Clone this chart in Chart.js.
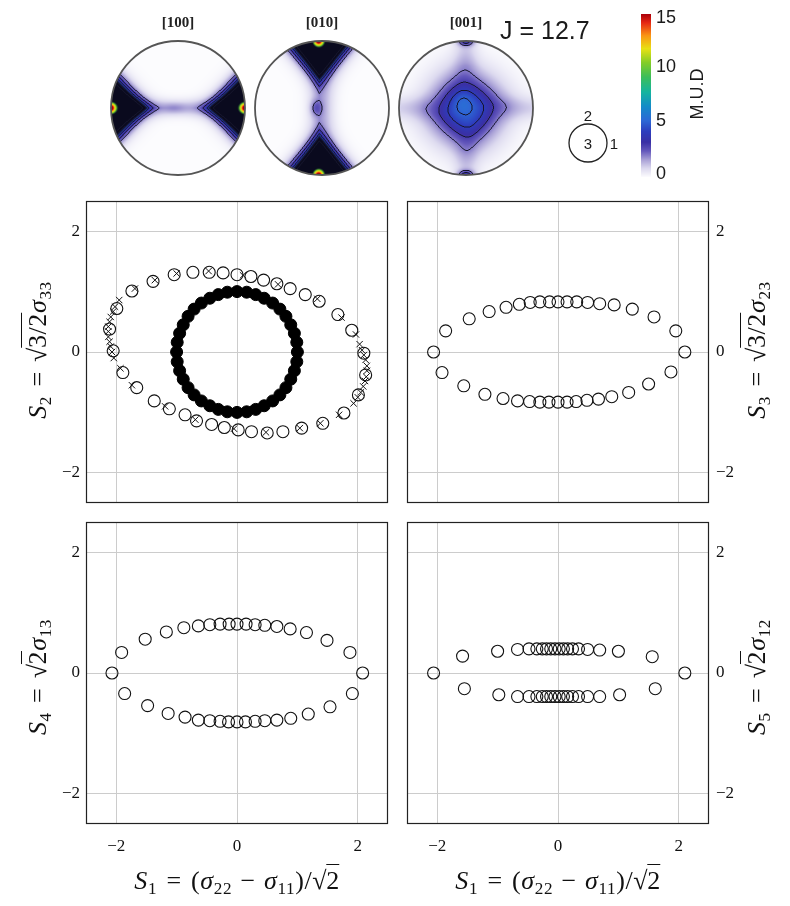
<!DOCTYPE html>
<html><head><meta charset="utf-8">
<script src="https://cdn.jsdelivr.net/npm/chart.js@4.4.1/dist/chart.umd.min.js"></script>
<style>
body{margin:0;background:#fff;}
#wrap{position:relative;width:790px;height:906px;overflow:hidden;background:#fff;}
canvas{position:absolute;}
.t{position:absolute;white-space:nowrap;font-family:"Liberation Serif",serif;color:#111;line-height:1;}
.m{font-size:26px;letter-spacing:0.6px;}
.m i{font-style:italic;}
.m sub{font-size:0.66em;vertical-align:-0.3em;line-height:0;}
.ov{border-top:1.3px solid #111;padding-top:1px;margin-left:-1px;}
.eq{margin:0 0.36em;}
.mi{margin:0 0.32em;}
.rot{transform:translate(-50%,-50%) rotate(-90deg);}
.ctr{transform:translate(-50%,-50%);}
.sans{font-family:"Liberation Sans",Arial,sans-serif;color:#1a1a1a;}
.pfl{font-size:15px;font-weight:bold;color:#222;}
</style></head>
<body>
<div id="wrap">
<canvas id="top" width="790" height="190" style="left:0px;top:0px"></canvas>
<canvas id="cTL" width="395" height="325" style="left:0px;top:190px"></canvas>
<canvas id="cTR" width="392" height="325" style="left:398px;top:190px"></canvas>
<canvas id="cBL" width="395" height="355" style="left:0px;top:511px"></canvas>
<canvas id="cBR" width="392" height="355" style="left:398px;top:511px"></canvas>

<div class="t pfl ctr" style="left:178px;top:22px">[100]</div>
<div class="t pfl ctr" style="left:322px;top:22px">[010]</div>
<div class="t pfl ctr" style="left:466px;top:22px">[001]</div>
<div class="t sans" style="left:500px;top:18px;font-size:25px">J = 12.7</div>
<div class="t sans ctr" style="left:588px;top:115px;font-size:15px">2</div>
<div class="t sans ctr" style="left:588px;top:143px;font-size:15px">3</div>
<div class="t sans ctr" style="left:614px;top:143px;font-size:15px">1</div>
<div class="t sans" style="left:656px;top:8px;font-size:18px">15</div>
<div class="t sans" style="left:656px;top:57px;font-size:18px">10</div>
<div class="t sans" style="left:656px;top:111px;font-size:18px">5</div>
<div class="t sans" style="left:656px;top:164px;font-size:18px">0</div>
<div class="t sans rot" style="left:697px;top:94px;font-size:18px">M.U.D</div>

<div class="t m rot" style="left:38px;top:350px"><i>S</i><sub>2</sub><span class="eq">=</span>√<span class="ov">3/2</span><i>σ</i><sub>33</sub></div>
<div class="t m rot" style="left:757px;top:350px"><i>S</i><sub>3</sub><span class="eq">=</span>√<span class="ov">3/2</span><i>σ</i><sub>23</sub></div>
<div class="t m rot" style="left:38px;top:677px"><i>S</i><sub>4</sub><span class="eq">=</span>√<span class="ov">2</span><i>σ</i><sub>13</sub></div>
<div class="t m rot" style="left:757px;top:677px"><i>S</i><sub>5</sub><span class="eq">=</span>√<span class="ov">2</span><i>σ</i><sub>12</sub></div>
<div class="t m ctr" style="left:237px;top:881px"><i>S</i><sub>1</sub><span class="eq">=</span>(<i>σ</i><sub>22</sub><span class="mi">−</span><i>σ</i><sub>11</sub>)/√<span class="ov">2</span></div>
<div class="t m ctr" style="left:558px;top:881px"><i>S</i><sub>1</sub><span class="eq">=</span>(<i>σ</i><sub>22</sub><span class="mi">−</span><i>σ</i><sub>11</sub>)/√<span class="ov">2</span></div>
</div>

<script>
// ---------------- data ----------------
const tickValues = [-2, 0, 2];
const axisMin = -2.5, axisMax = 2.5;

// S1–S2 panel
const s12Filled = [[1.00,0.00],[0.99,0.16],[0.95,0.31],[0.89,0.45],[0.81,0.59],[0.71,0.71],[0.59,0.81],[0.45,0.89],[0.31,0.95],[0.16,0.99],
 [0.00,1.00],[-0.16,0.99],[-0.31,0.95],[-0.45,0.89],[-0.59,0.81],[-0.71,0.71],[-0.81,0.59],[-0.89,0.45],[-0.95,0.31],[-0.99,0.16],
 [-1.00,0.00],[-0.99,-0.16],[-0.95,-0.31],[-0.89,-0.45],[-0.81,-0.59],[-0.71,-0.71],[-0.59,-0.81],[-0.45,-0.89],[-0.31,-0.95],[-0.16,-0.99],
 [0.00,-1.00],[0.16,-0.99],[0.31,-0.95],[0.45,-0.89],[0.59,-0.81],[0.71,-0.71],[0.81,-0.59],[0.89,-0.45],[0.95,-0.31],[0.99,-0.16]];
const s12Open = [[-1.99,0.72],[-1.74,1.01],[-1.39,1.17],[-1.04,1.28],[-0.73,1.32],[-0.46,1.32],[-0.23,1.31],[0.00,1.28],[0.23,1.25],[0.44,1.19],
 [0.66,1.13],[0.88,1.05],[1.13,0.95],[1.36,0.84],[1.67,0.62],[1.90,0.36],[2.10,-0.02],[2.13,-0.38],[2.01,-0.71],[1.77,-1.01],
 [1.42,-1.18],[1.07,-1.26],[0.76,-1.32],[0.50,-1.34],[0.24,-1.32],[0.02,-1.29],[-0.21,-1.25],[-0.42,-1.20],[-0.67,-1.14],[-0.86,-1.04],
 [-1.12,-0.94],[-1.37,-0.81],[-1.66,-0.59],[-1.89,-0.34],[-2.05,0.02],[-2.11,0.38]];
const s12Cross = [[-1.95,0.86],[-2.02,0.75],[-2.05,0.67],[-2.09,0.58],[-2.11,0.50],[-2.13,0.42],[-2.13,0.34],[-2.13,0.25],[-2.11,0.17],[-2.09,0.09],
 [-2.07,0.00],[-2.04,-0.10],[-1.93,-0.27],[-1.69,1.05],[-1.36,1.19],[-1.00,1.30],[-0.47,1.34],[0.10,1.27],[0.68,1.12],[1.33,0.88],
 [1.73,0.57],[1.97,0.29],[2.03,0.13],[2.07,0.03],[2.10,-0.05],[2.13,-0.13],[2.15,-0.23],[2.15,-0.31],[2.14,-0.41],[2.12,-0.48],
 [2.09,-0.57],[2.05,-0.67],[2.00,-0.75],[1.93,-0.85],[1.69,-1.04],[1.38,-1.18],[1.04,-1.26],[0.48,-1.33],[-0.05,-1.27],[-0.69,-1.12],
 [-1.19,-0.90],[-1.74,-0.55]];

// S1–S3 panel
const s13Open = [[-2.06,0.00],[-1.86,0.35],[-1.47,0.55],[-1.14,0.67],[-0.86,0.74],[-0.64,0.79],[-0.46,0.82],[-0.30,0.83],[-0.14,0.83],[0.00,0.83],
 [0.15,0.83],[0.31,0.83],[0.49,0.82],[0.69,0.80],[0.93,0.78],[1.23,0.71],[1.59,0.58],[1.95,0.35],[2.10,0.00],
 [1.87,-0.33],[1.50,-0.53],[1.17,-0.67],[0.89,-0.74],[0.67,-0.78],[0.48,-0.80],[0.30,-0.82],[0.15,-0.83],[0.00,-0.83],[-0.15,-0.83],
 [-0.30,-0.83],[-0.47,-0.82],[-0.67,-0.81],[-0.91,-0.77],[-1.21,-0.70],[-1.56,-0.56],[-1.92,-0.34]];

// S1–S4 panel
const s14Open = [[-2.07,0.00],[-1.91,0.34],[-1.52,0.56],[-1.17,0.68],[-0.88,0.75],[-0.64,0.78],[-0.45,0.80],[-0.28,0.81],[-0.13,0.81],[0.00,0.81],
 [0.15,0.81],[0.30,0.80],[0.46,0.79],[0.66,0.77],[0.88,0.73],[1.15,0.67],[1.49,0.54],[1.87,0.34],[2.08,0.00],
 [1.91,-0.34],[1.54,-0.56],[1.18,-0.68],[0.89,-0.75],[0.66,-0.78],[0.46,-0.79],[0.30,-0.80],[0.14,-0.81],[0.00,-0.81],[-0.14,-0.81],
 [-0.28,-0.80],[-0.45,-0.79],[-0.64,-0.78],[-0.86,-0.73],[-1.14,-0.67],[-1.48,-0.54],[-1.86,-0.34]];

// S1–S5 panel
const s15Open = [[-2.06,0.00],[-1.58,0.28],[-1.00,0.36],[-0.67,0.39],[-0.48,0.40],[-0.35,0.40],[-0.26,0.40],[-0.19,0.40],[-0.12,0.40],[-0.05,0.40],
 [0.02,0.40],[0.09,0.40],[0.16,0.40],[0.24,0.40],[0.34,0.40],[0.49,0.39],[0.69,0.38],[1.00,0.36],[1.56,0.27],[2.10,0.00],
 [1.61,-0.26],[1.02,-0.36],[0.69,-0.39],[0.49,-0.39],[0.34,-0.39],[0.24,-0.39],[0.16,-0.39],[0.09,-0.39],[0.02,-0.39],[-0.05,-0.39],
 [-0.12,-0.39],[-0.19,-0.39],[-0.26,-0.39],[-0.35,-0.39],[-0.48,-0.39],[-0.67,-0.39],[-0.98,-0.36],[-1.55,-0.26]];

// colour bar ticks
const cbarTicks = [0, 5, 10, 15];

// ---------------- charts ----------------
const pts = a => a.map(p => ({x:p[0], y:p[1]}));
const fmt = v => v < 0 ? '\u2212' + Math.abs(v) : String(v);
const boxPlugin = {id:'box', afterDraw(c){
  const a=c.chartArea, ctx=c.ctx; ctx.save();
  ctx.strokeStyle='#222'; ctx.lineWidth=1.2;
  ctx.strokeRect(Math.round(a.left)+0.5, Math.round(a.top)+0.5, Math.round(a.right-a.left)-1, Math.round(a.bottom-a.top)-1);
  ctx.restore();
}};
function openDs(d){return {data:pts(d), pointStyle:'circle', pointRadius:6, pointBorderWidth:1.1, borderColor:'#111', backgroundColor:'rgba(0,0,0,0)', showLine:false};}
function filledDs(d){return {data:pts(d), pointStyle:'circle', pointRadius:6, pointBorderWidth:1, borderColor:'#000', backgroundColor:'#000', showLine:false};}
function crossDs(d){return {data:pts(d), pointStyle:'crossRot', pointRadius:4.5, pointBorderWidth:1, borderColor:'#111', backgroundColor:'#111', showLine:false};}

function makePanel(id, datasets, side, showX, padding){
  const tickFont = {family:'Liberation Serif', size:17};
  const clear = 'rgba(0,0,0,0)';
  new Chart(document.getElementById(id), {
    type:'scatter',
    data:{datasets},
    options:{
      responsive:false, animation:false, devicePixelRatio:1,
      layout:{autoPadding:false, padding},
      plugins:{legend:{display:false}, tooltip:{enabled:false}},
      scales:{
        x:{type:'linear', min:axisMin, max:axisMax,
           afterBuildTicks:s=>{s.ticks=tickValues.map(v=>({value:v}));},
           afterFit:s=>{s.height = showX ? 42 : 12;},
           grid:{color:'#cccccc', lineWidth:1, drawTicks:true, tickLength:12, tickColor:clear}, border:{display:false},
           ticks:{display:showX, padding:0, font:tickFont, color:'#111', callback:v=>fmt(v), maxRotation:0}},
        y:{type:'linear', position:side, min:axisMin, max:axisMax,
           afterBuildTicks:s=>{s.ticks=tickValues.map(v=>({value:v}));},
           afterFit:s=>{s.width = side==='left' ? 86 : 81;},
           grid:{color:'#cccccc', lineWidth:1, drawTicks:true, tickLength:side==='left'?6:7, tickColor:clear}, border:{display:false},
           ticks:{padding:0, font:tickFont, color:'#111', callback:v=>fmt(v)}}
      }
    },
    plugins:[boxPlugin]
  });
}
makePanel('cTL', [filledDs(s12Filled), openDs(s12Open), crossDs(s12Cross)], 'left', false, {top:11,left:0,right:7,bottom:0});
makePanel('cTR', [openDs(s13Open)], 'right', false, {top:11,left:9,right:0,bottom:0});
makePanel('cBL', [openDs(s14Open)], 'left', true, {top:11,left:0,right:7,bottom:0});
makePanel('cBR', [openDs(s15Open)], 'right', true, {top:11,left:9,right:0,bottom:0});

// ---------------- pole figures (decorative image) ----------------
const cmapStops = [[0,[252,252,254]],[0.8,[220,217,239]],[1.6,[168,160,214]],[2.4,[100,88,188]],[3.2,[58,48,165]],[4.2,[45,62,190]],
 [5.2,[45,105,214]],[6.5,[20,140,200]],[7.8,[20,180,160]],[9.2,[60,190,90]],[10.5,[130,205,40]],[11.8,[232,225,20]],
 [13,[250,150,20]],[14.2,[230,40,20]],[15,[170,0,10]]];
function cmap(v){
  if(v<=0) return cmapStops[0][1];
  for(let i=1;i<cmapStops.length;i++){
    const [b,cb]=cmapStops[i];
    if(v<=b){const [a,ca]=cmapStops[i-1]; const t=(v-a)/(b-a); return ca.map((c,k)=>c+(cb[k]-c)*t);}
  }
  return cmapStops[cmapStops.length-1][1];
}
const E=Math.exp, A=Math.abs;
function f100(u,v){
  const g=(1-A(u))+0.95*A(v);
  let f=7*E(-((g/0.55)**4));
  f+=0.9*E(-((g/0.72)**4));
  const du=1-A(u), dp=Math.sqrt(du*du+v*v);
  f+=7.5*E(-((dp/0.06)**2));
  f+=1.25*E(-((v/(0.12+0.12*u*u))**2));
  f+=0.55*E(-(((u+0.05)/0.16)**2)-((v/0.08)**2));
  return f;
}
function f010(u,v){
  const g=(1-A(v))+1.15*A(u+0.04);
  let f=7*E(-((g/0.6)**4));
  f+=0.9*E(-((g/0.78)**4));
  const dv=1-A(v), dp=Math.sqrt(dv*dv+(u+0.05)*(u+0.05));
  f+=7.5*E(-((dp/0.06)**2));
  f+=1.1*E(-((u/(0.17+0.25*v*v))**2));
  f+=1.4*E(-(((u+0.09)/0.09)**2)-((v/0.12)**2));
  f+=0.35*E(-(((u+0.05)/0.2)**2)-((v/0.3)**2));
  return f;
}
function f001(u,v){
  const a=-0.17, ca=Math.cos(a), sa=Math.sin(a);
  const x=u*ca-(v+0.02)*sa, y=u*sa+(v+0.02)*ca;
  const d=Math.pow(Math.pow(A(x),1.7)+Math.pow(A(y),1.7),1/1.7);
  let f=5.0*E(-((d/0.52)**2));
  f+=0.5*E(-(((u+0.06)/0.16)**2+((v-0.1)/0.16)**2));
  const w=Math.min(1,(u*u+v*v)/0.4);
  f+=w*(0.8*E(-((v/0.17)**2))+0.8*E(-((u/0.17)**2)));
  f+=2.7*E(-((u/0.12)**2)-(((1-A(v))/0.07)**2));
  return f;
}
function renderPF(ctx,cx,cy,r,field,darkLobe){
  const S=2, N=Math.round(2*r*S);
  const off=document.createElement('canvas'); off.width=N; off.height=N;
  const octx=off.getContext('2d'); const img=octx.createImageData(N,N); const D=img.data;
  const F=new Float32Array(N*N), IN=new Uint8Array(N*N);
  for(let j=0;j<N;j++)for(let i=0;i<N;i++){
    const u=((i+0.5)/N)*2-1, v=1-((j+0.5)/N)*2, k=j*N+i;
    if(u*u+v*v<=1.03){IN[k]=1;F[k]=field(u,v);}
  }
  const lvl=f=>f<2?0:(f>6.5?99:Math.floor(f-1));
  const nb=[[1,0],[-1,0],[0,1],[0,-1]];
  for(let j=0;j<N;j++)for(let i=0;i<N;i++){
    const k=j*N+i, o=k*4;
    if(!IN[k]){D[o+3]=0;continue;}
    const f=F[k], L=lvl(f); let edge=false;
    if(L!==99) for(const [di,dj] of nb){const ii=i+di,jj=j+dj; if(ii<0||jj<0||ii>=N||jj>=N)continue; const kk=jj*N+ii; if(IN[kk]){const l2=lvl(F[kk]); if(l2!==L && l2!==99){edge=true;break;}}}
    let c=cmap(f);
    if(darkLobe && f>4.0){
      const t=Math.min(1,(f-4.0)/1.0)*(f<9.3?1:Math.max(0,1-(f-9.3)/1.2));
      c=c.map((x,q)=>x*(1-t)+[10,10,30][q]*t);
    }
    if(edge) c=[22,22,45];
    D[o]=c[0];D[o+1]=c[1];D[o+2]=c[2];D[o+3]=255;
  }
  octx.putImageData(img,0,0);
  ctx.save(); ctx.beginPath(); ctx.arc(cx,cy,r,0,2*Math.PI); ctx.clip();
  ctx.imageSmoothingEnabled=true; ctx.drawImage(off,cx-r,cy-r,2*r,2*r); ctx.restore();
  ctx.beginPath(); ctx.arc(cx,cy,r,0,2*Math.PI); ctx.strokeStyle='#555'; ctx.lineWidth=1.8; ctx.stroke();
}
const tctx=document.getElementById('top').getContext('2d');
tctx.fillStyle='#fff'; tctx.fillRect(0,0,790,190);
renderPF(tctx,178,108,67,f100,true);
renderPF(tctx,322,108,67,f010,true);
renderPF(tctx,466,108,67,f001,false);
// small reference circle
tctx.beginPath(); tctx.arc(588,143,19,0,2*Math.PI); tctx.strokeStyle='#222'; tctx.lineWidth=1.3; tctx.stroke();
// colour bar
const cbTop=14, cbBot=177, cbMax=cbarTicks[cbarTicks.length-1];
for(let y=cbTop;y<cbBot;y++){
  const val=cbMax*(cbBot-y-0.5)/(cbBot-cbTop);
  const c=cmap(val); tctx.fillStyle=`rgb(${c[0]|0},${c[1]|0},${c[2]|0})`; tctx.fillRect(641,y,10,1);
}
</script>
</body></html>
